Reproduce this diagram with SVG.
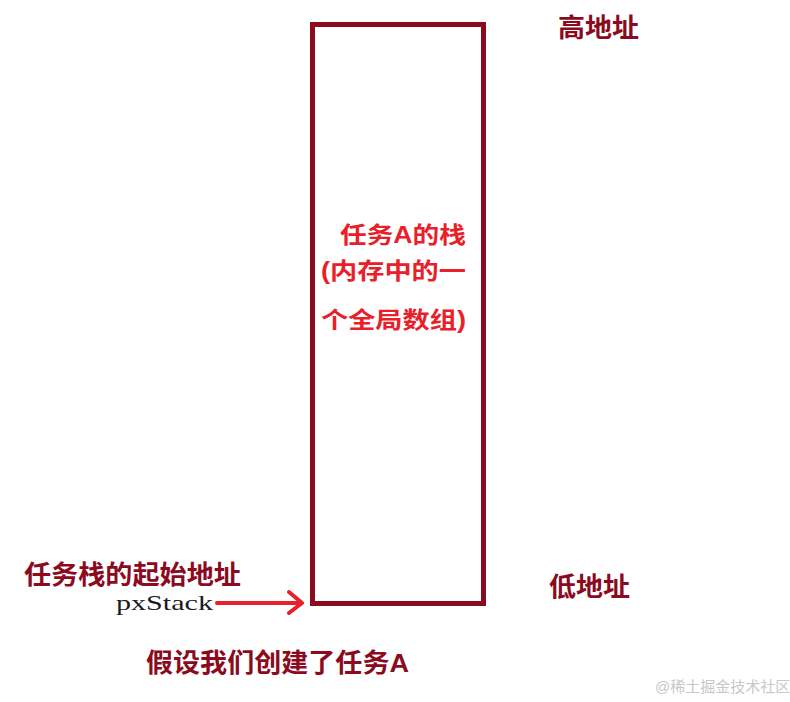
<svg xmlns="http://www.w3.org/2000/svg" width="790" height="702" viewBox="0 0 790 702">
<style>
.dk{fill:#8B0A1E;font-family:"Liberation Sans","Noto Sans CJK SC",sans-serif;font-weight:bold;font-size:26px}
.rd{fill:#E8202A;font-family:"Liberation Sans","Noto Sans CJK SC",sans-serif;font-weight:bold;font-size:23px}
</style>
<rect width="790" height="702" fill="#ffffff"/>
<g id="stack">
<rect x="312.5" y="24.5" width="171" height="579" fill="none" stroke="#8B0A1E" stroke-width="5"/>
<text class="rd" x="340" y="243" textLength="126" lengthAdjust="spacingAndGlyphs">任务A的栈</text>
<text class="rd" x="321" y="279" textLength="145" lengthAdjust="spacingAndGlyphs">(内存中的一</text>
<text class="rd" x="321" y="328" textLength="145" lengthAdjust="spacingAndGlyphs">个全局数组)</text>
</g>
<g id="high"><text class="dk" x="558" y="37" textLength="81" lengthAdjust="spacingAndGlyphs">高地址</text></g>
<g id="low"><text class="dk" x="549" y="596" textLength="81" lengthAdjust="spacingAndGlyphs">低地址</text></g>
<g id="start">
<text class="dk" x="24" y="584" font-size="25" textLength="217" lengthAdjust="spacingAndGlyphs">任务栈的起始地址</text>
<text x="116" y="610" font-family="Liberation Serif,serif" font-size="21" fill="#1a1a24" textLength="97" lengthAdjust="spacingAndGlyphs">pxStack</text>
</g>
<g id="caption"><text class="dk" x="146" y="672" textLength="263" lengthAdjust="spacingAndGlyphs">假设我们创建了任务A</text></g>
<g id="connectors">
<path d="M217 603 H301 M289 592 L302 603 L289 613" fill="none" stroke="#E8202A" stroke-width="4" stroke-linecap="round" stroke-linejoin="round"/>
</g>
<text x="655" y="692" font-family="Liberation Sans,'Noto Sans CJK SC',sans-serif" font-size="15" fill="#c8c8c8">@稀土掘金技术社区</text>
</svg>
